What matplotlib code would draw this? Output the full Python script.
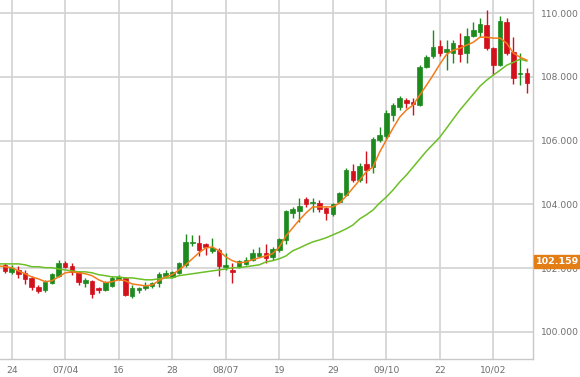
import matplotlib
matplotlib.use("Agg")
import matplotlib.pyplot as plt
import numpy as np

# ---- data (candle index 0 = "24") ----
first_index = -1
opens = [102.10, 101.88, 101.94, 101.85, 101.69, 101.41, 101.32, 101.54, 101.76, 102.16,
         102.07, 101.88, 101.54, 101.60, 101.38, 101.32, 101.44, 101.66, 101.69, 101.13,
         101.32, 101.38, 101.44, 101.54, 101.76, 101.72, 101.85, 102.10, 102.79, 102.79,
         102.76, 102.54, 102.57, 102.04, 101.94, 102.04, 102.13, 102.26, 102.38, 102.48,
         102.35, 102.57, 102.88, 103.73, 103.79, 104.17, 104.04, 104.04, 103.89, 103.70,
         104.08, 104.29, 105.05, 104.76, 105.27, 105.17, 106.02, 106.14, 106.80, 107.05,
         107.27, 107.21, 107.12, 108.31, 108.65, 108.97, 108.78, 108.75, 109.00, 108.75,
         109.28, 109.40, 109.62, 108.90, 108.37, 109.72, 108.78, 108.09, 108.12]
highs = [102.16, 102.10, 102.07, 101.94, 101.76, 101.47, 101.63, 101.85, 102.26, 102.23,
         102.16, 101.91, 101.69, 101.63, 101.41, 101.60, 101.76, 101.79, 101.72, 101.47,
         101.41, 101.57, 101.57, 101.88, 101.94, 101.91, 102.19, 103.07, 103.04, 103.04,
         102.79, 102.95, 102.63, 102.48, 102.16, 102.26, 102.35, 102.60, 102.66, 102.76,
         102.66, 102.95, 103.82, 103.92, 104.20, 104.23, 104.20, 104.14, 103.92, 104.04,
         104.39, 105.14, 105.27, 105.30, 105.67, 106.11, 106.43, 106.96, 107.18, 107.40,
         107.34, 107.34, 108.37, 108.68, 109.47, 109.15, 109.15, 109.15, 109.37, 109.53,
         109.72, 109.84, 110.09, 108.93, 109.91, 109.84, 109.25, 108.75, 108.28]
lows = [101.85, 101.82, 101.69, 101.50, 101.32, 101.22, 101.25, 101.50, 101.72, 102.01,
        101.79, 101.47, 101.41, 101.07, 101.22, 101.29, 101.41, 101.63, 101.13, 101.07,
        101.22, 101.32, 101.38, 101.41, 101.69, 101.69, 101.82, 102.04, 102.70, 102.38,
        102.41, 102.48, 101.76, 101.94, 101.54, 102.01, 102.10, 102.23, 102.35, 102.16,
        102.26, 102.51, 102.76, 103.57, 103.45, 103.92, 103.76, 103.76, 103.51, 103.64,
        104.04, 104.26, 104.70, 104.70, 104.67, 104.98, 105.96, 106.05, 106.61, 106.96,
        107.02, 106.80, 107.08, 108.28, 108.59, 108.65, 108.21, 108.43, 108.46, 108.43,
        109.25, 109.25, 108.84, 108.06, 108.34, 108.68, 107.77, 107.74, 107.49]
closes = [101.91, 102.01, 101.82, 101.66, 101.41, 101.29, 101.57, 101.82, 102.16, 102.04,
          101.88, 101.57, 101.63, 101.19, 101.32, 101.57, 101.69, 101.72, 101.16, 101.38,
          101.38, 101.44, 101.54, 101.82, 101.85, 101.88, 102.16, 102.82, 102.82, 102.57,
          102.66, 102.63, 102.07, 102.10, 101.88, 102.23, 102.26, 102.48, 102.48, 102.32,
          102.60, 102.92, 103.79, 103.86, 103.95, 104.01, 104.08, 103.86, 103.73, 104.01,
          104.36, 105.08, 104.76, 105.20, 105.08, 106.05, 106.18, 106.87, 107.12, 107.34,
          107.18, 107.15, 108.31, 108.62, 108.93, 108.75, 108.87, 109.06, 108.71, 109.28,
          109.47, 109.66, 108.90, 108.37, 109.75, 108.75, 107.96, 108.12, 107.81]

ma_first_index = -2
ma_fast = [102.07, 102.04, 102.01, 101.91, 101.82, 101.72, 101.66, 101.57, 101.60, 101.72,
           101.85, 101.88, 101.85, 101.82, 101.76, 101.63, 101.54, 101.57, 101.63, 101.60,
           101.50, 101.47, 101.44, 101.47, 101.60, 101.72, 101.79, 101.94, 102.10, 102.29,
           102.48, 102.63, 102.66, 102.54, 102.35, 102.23, 102.16, 102.19, 102.26, 102.32,
           102.38, 102.45, 102.66, 103.01, 103.26, 103.51, 103.73, 103.92, 103.92, 103.92,
           103.92, 104.04, 104.26, 104.51, 104.76, 105.02, 105.17, 105.64, 106.02, 106.39,
           106.74, 106.96, 107.12, 107.43, 107.74, 108.06, 108.40, 108.71, 108.84, 108.90,
           109.00, 109.09, 109.25, 109.25, 109.22, 109.22, 109.06, 108.75, 108.62, 108.53]
ma_slow = [102.13, 102.13, 102.13, 102.13, 102.10, 102.04, 102.04, 102.01, 102.01, 101.97,
           101.94, 101.91, 101.88, 101.88, 101.85, 101.79, 101.76, 101.72, 101.72, 101.69,
           101.69, 101.66, 101.63, 101.63, 101.66, 101.69, 101.69, 101.76, 101.79, 101.82,
           101.85, 101.88, 101.91, 101.94, 101.97, 102.01, 102.01, 102.04, 102.07, 102.10,
           102.19, 102.23, 102.29, 102.38, 102.54, 102.63, 102.73, 102.82, 102.88, 102.95,
           103.04, 103.13, 103.23, 103.35, 103.54, 103.67, 103.82, 104.04, 104.23, 104.45,
           104.70, 104.92, 105.17, 105.42, 105.67, 105.89, 106.11, 106.39, 106.68, 106.96,
           107.21, 107.46, 107.71, 107.90, 108.06, 108.21, 108.37, 108.46, 108.56, 108.50]

tick_labels = ["24", "07/04", "16", "28", "08/07", "19", "29", "09/10", "22", "10/02"]
tick_step = 8
y_ticks = [100, 102, 104, 106, 108, 110]
last_price = 102.159

# ---- figure ----
W, H = 580, 377
fig = plt.figure(figsize=(W / 100, H / 100), dpi=100)
ax = fig.add_axes([0, 1 - 359 / H, 533 / W, 359 / H])

col_up = "#1d8a1d"
col_dn = "#d3111c"
grid_col = "#d2d2d2"

idx = np.arange(first_index, first_index + len(opens))
o = np.array(opens); c = np.array(closes); h = np.array(highs); l = np.array(lows)
up = c >= o
colors = np.where(up, col_up, col_dn)

ax.vlines(idx, l, h, colors=colors, linewidth=1.0, zorder=3)
bottoms = np.minimum(o, c)
heights = np.maximum(np.abs(c - o), 0.025)
ax.bar(idx, heights, bottom=bottoms, width=0.68, color=colors, edgecolor=colors,
       linewidth=0.5, zorder=4)

ma_idx = np.arange(ma_first_index, ma_first_index + len(ma_fast))
ax.plot(ma_idx, ma_slow, color="#6cbf26", linewidth=1.1, zorder=5)
ax.plot(ma_idx, ma_fast, color="#f27c1c", linewidth=1.1, zorder=6)

ax.set_xlim(-1.75, 77.93)
ax.set_ylim(100 - 27.3 / 31.84, 110 + 13.3 / 31.84)

xt = np.arange(0, tick_step * len(tick_labels), tick_step)
ax.set_xticks(xt)
ax.set_xticklabels(tick_labels)
ax.set_yticks(y_ticks)
ax.set_yticklabels([f"{v:.3f}" for v in y_ticks])
ax.yaxis.tick_right()
ax.tick_params(axis="both", length=0, labelsize=6.6, labelcolor="#6e6e6e")
ax.tick_params(axis="y", pad=6)
ax.tick_params(axis="x", pad=5)

ax.grid(True, color=grid_col, linewidth=1.2, zorder=0)
ax.set_axisbelow(True)
for s in ["top", "left"]:
    ax.spines[s].set_visible(False)
for s in ["right", "bottom"]:
    ax.spines[s].set_color("#c8c8c8")
    ax.spines[s].set_linewidth(1.0)

ax.annotate(f"{last_price:.3f}", xy=(1.0, last_price), xycoords=("axes fraction", "data"),
            xytext=(2, 1), textcoords="offset points", va="center", ha="left",
            fontsize=6.8, fontweight="bold", color="white",
            bbox=dict(boxstyle="square,pad=0.2", fc="#e37e16", ec="#e37e16"),
            zorder=10, annotation_clip=False)

fig.savefig("out.png", dpi=100)
